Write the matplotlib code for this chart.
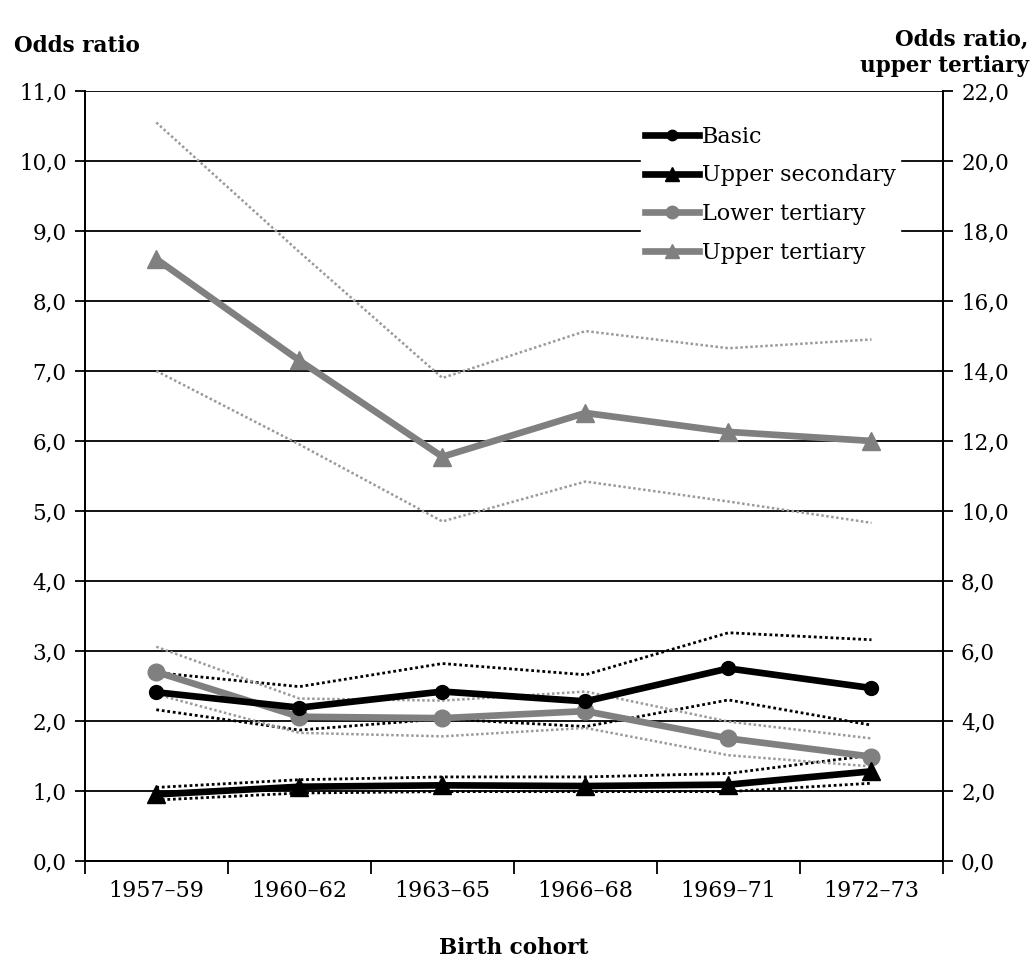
import numpy as np
import matplotlib
matplotlib.use("Agg")
import matplotlib.pyplot as plt
from matplotlib.ticker import FuncFormatter

cohorts = ['1957–59', '1960–62', '1963–65', '1966–68', '1969–71', '1972–73']

# odds ratios, left axis
basic = [2.41, 2.19, 2.42, 2.28, 2.75, 2.47]
basic_hi = [2.69, 2.49, 2.82, 2.66, 3.26, 3.16]
basic_lo = [2.16, 1.87, 2.03, 1.92, 2.30, 1.94]

upper_sec = [0.95, 1.06, 1.08, 1.07, 1.09, 1.28]
upper_sec_hi = [1.05, 1.16, 1.20, 1.20, 1.25, 1.51]
upper_sec_lo = [0.87, 0.97, 0.99, 0.99, 0.99, 1.11]

lower_ter = [2.70, 2.06, 2.04, 2.14, 1.75, 1.49]
lower_ter_hi = [3.06, 2.32, 2.29, 2.42, 1.99, 1.75]
lower_ter_lo = [2.38, 1.83, 1.78, 1.90, 1.51, 1.35]

# upper tertiary, right axis
upper_ter = [17.2, 14.3, 11.55, 12.8, 12.26, 12.0]
upper_ter_hi = [21.1, 17.4, 13.8, 15.14, 14.65, 14.9]
upper_ter_lo = [14.0, 11.9, 9.7, 10.84, 10.27, 9.66]

plt.rcParams['font.family'] = ['DejaVu Serif']

BLACK = '#000000'
GRAY = '#808080'
LGRAY = '#9a9a9a'

x = np.arange(len(cohorts))

fig = plt.figure(figsize=(10.34, 9.63), dpi=100)
ax = fig.add_axes([0.082, 0.106, 0.83, 0.7995])
ax2 = ax.twinx()

# grid
for v in range(0, 12):
    ax.axhline(v, color='black', lw=1.3, zorder=0)

# confidence bands (dotted)
dot = (0, (1, 1))
ax.plot(x, basic_hi, color=BLACK, lw=2, ls=dot, zorder=2)
ax.plot(x, basic_lo, color=BLACK, lw=2, ls=dot, zorder=2)
ax.plot(x, upper_sec_hi, color=BLACK, lw=2, ls=dot, zorder=2)
ax.plot(x, upper_sec_lo, color=BLACK, lw=2, ls=dot, zorder=2)
ax.plot(x, lower_ter_hi, color=LGRAY, lw=1.8, ls=dot, zorder=2)
ax.plot(x, lower_ter_lo, color=LGRAY, lw=1.8, ls=dot, zorder=2)
ax2.plot(x, upper_ter_hi, color=LGRAY, lw=1.8, ls=dot, zorder=2)
ax2.plot(x, upper_ter_lo, color=LGRAY, lw=1.8, ls=dot, zorder=2)

# main series
h1, = ax.plot(x, basic, color=BLACK, lw=4.8, marker='o', ms=10, label='Basic', zorder=4)
h2, = ax.plot(x, upper_sec, color=BLACK, lw=4.8, marker='^', ms=13, label='Upper secondary', zorder=4)
h3, = ax.plot(x, lower_ter, color=GRAY, lw=4.8, marker='o', ms=12, label='Lower tertiary', zorder=3)
h4, = ax2.plot(x, upper_ter, color=GRAY, lw=4.8, marker='^', ms=13, label='Upper tertiary', zorder=3)

ax.set_xlim(-0.5, len(cohorts) - 0.5)
ax.set_ylim(0, 11)
ax2.set_ylim(0, 22)
ax.set_yticks(np.arange(0, 12, 1))
ax2.set_yticks(np.arange(0, 23, 2))
fmt = FuncFormatter(lambda v, p: f'{v:.1f}'.replace('.', ','))
ax.yaxis.set_major_formatter(fmt)
ax2.yaxis.set_major_formatter(fmt)

ax.set_xticks(x)
ax.set_xticklabels(cohorts)
ax.set_xticks(np.arange(-0.5, len(cohorts)), minor=True)
ax.tick_params(axis='x', which='major', length=0, pad=14, labelsize=16)
ax.tick_params(axis='x', which='minor', length=9, width=1.3, direction='out')
ax.tick_params(axis='y', length=7, width=1.3, labelsize=15.5, pad=6)
ax2.tick_params(axis='y', length=7, width=1.3, labelsize=15.5, pad=6)

for a in (ax, ax2):
    a.spines['top'].set_visible(False)
    for s in ('left', 'right', 'bottom'):
        a.spines[s].set_linewidth(1.3)

leg = ax2.legend(handles=[h1, h2, h3, h4], loc='upper left',
                 bbox_to_anchor=(0.635, 0.975), frameon=True, fancybox=False,
                 edgecolor='white', framealpha=1, fontsize=16,
                 handlelength=2.4, handletextpad=0.15, labelspacing=0.75,
                 borderpad=0.2, markerscale=0.75)

fig.text(0.014, 0.952, 'Odds ratio', fontsize=15.5, fontweight='bold', ha='left', va='center')
fig.text(0.995, 0.945, 'Odds ratio,\nupper tertiary', fontsize=15.5, fontweight='bold',
         ha='right', va='center', linespacing=1.2)
fig.text(0.497, 0.016, 'Birth cohort', fontsize=15.5, fontweight='bold', ha='center', va='center')

fig.savefig('out.png', dpi=100, facecolor='white')
